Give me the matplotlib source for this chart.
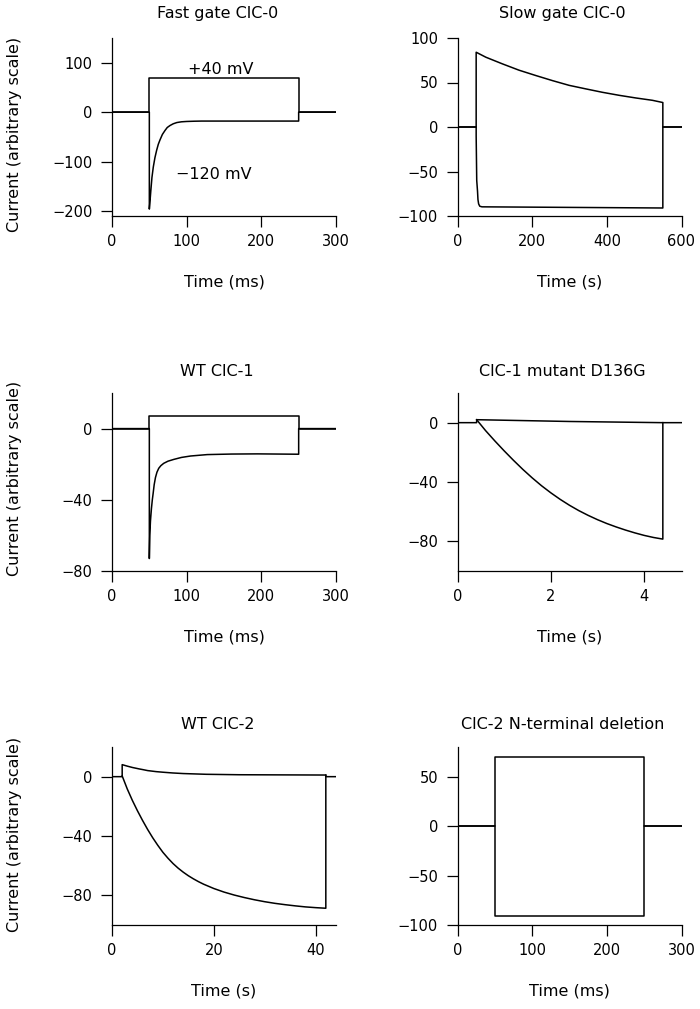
import matplotlib
matplotlib.use("Agg")
import matplotlib.pyplot as plt

plt.rcParams['font.family'] = ['DejaVu Sans']

# ---------------- data ----------------
# Panel 1: Fast gate ClC-0 (ms)
fast_t_pos = [0, 50, 50, 250, 250, 300]
fast_i_pos = [0, 0, 70, 70, 0, 0]
fast_t_neg = [0, 50, 50, 51, 52.1, 53.5, 55.3, 57.5, 59.8, 62, 64.3, 67.5, 71, 74, 77.7,
              82, 86.8, 93, 100, 110, 120, 250, 250, 300]
fast_i_neg = [0, 0, -196, -178, -157, -132, -111, -92, -77, -65, -56, -45, -37, -31, -27,
              -23.5, -21, -19.5, -18.8, -18.3, -18, -18, 0, 0]

# Panel 2: Slow gate ClC-0 (s)
slow_t_pos = [0, 50, 50, 76, 120.5, 165, 210, 254.5, 299, 344, 388, 433, 478, 522, 550, 550, 600]
slow_i_pos = [0, 0, 84, 78.4, 70.9, 63.8, 57.8, 52.1, 46.8, 42.8, 39, 35.6, 32.6, 30, 27.5, 0, 0]
slow_t_neg = [0, 50, 50, 51.5, 53.6, 54.8, 56.6, 59.6, 65.5, 550, 550, 600]
slow_i_neg = [0, 0, -10, -60, -72, -81.5, -86.4, -89, -89.7, -91, 0, 0]

# Panel 3: WT ClC-1 (ms)
c1_t_pos = [0, 50, 50, 250, 250, 300]
c1_i_pos = [0, 0, 7, 7, 0, 0]
c1_t_neg = [0, 50, 50, 50.6, 51.5, 52.8, 54, 55.1, 56.5, 58.2, 60.2, 62.6, 65.5, 69.3, 75,
            82.8, 93, 105.2, 127.6, 160, 194.8, 250, 250, 300]
c1_i_neg = [0, 0, -73, -60, -52, -45, -40, -36.4, -31.5, -27.5, -24.5, -22.3, -20.8, -19.5, -18.3,
            -17.3, -16.2, -15.4, -14.6, -14.3, -14.2, -14.4, 0, 0]

# Panel 4: ClC-1 mutant D136G (s)
d136_t_pos = [0, 0.41, 0.41, 2.4, 4.4, 4.4, 4.8]
d136_i_pos = [0, 0, 2, 0.8, 0, 0, 0]
d136_t_neg = [0.41, 0.6, 0.8, 1.0, 1.2, 1.4, 1.6, 1.8, 2.0, 2.2, 2.4, 2.6, 2.8, 3.0, 3.2,
              3.4, 3.6, 3.8, 4.0, 4.2, 4.4, 4.4]
d136_i_neg = [2, -5.3, -12.3, -19, -25.4, -31.5, -37.2, -42.5, -47.3, -51.7, -55.7, -59.3,
              -62.5, -65.4, -68, -70.3, -72.4, -74.3, -76, -77.4, -78.5, 0]

# Panel 5: WT ClC-2 (s)
c2_t_pos = [0, 2, 2, 3, 4, 5.37, 6, 7, 8.66, 10, 11.9, 14, 18.5, 25, 42, 42, 44]
c2_i_pos = [0, 0, 8.1, 7.1, 6.2, 5.2, 4.8, 4.1, 3.4, 3.0, 2.5, 2.1, 1.6, 1.3, 1.1, 0, 0]
c2_t_neg = [2, 3, 4, 5, 6, 7, 8, 9, 10, 11, 12, 13, 14, 15, 16, 17, 18, 20, 22, 24, 26,
            28, 30, 32, 34, 36, 38, 40, 42, 42]
c2_i_neg = [0.5, -8.3, -16, -23, -29.5, -35.6, -41.2, -46.3, -51, -55, -58.6, -61.7, -64.4,
            -66.8, -68.9, -70.8, -72.5, -75.4, -77.8, -79.8, -81.5, -83, -84.3, -85.4,
            -86.3, -87.1, -87.8, -88.3, -88.7, 1.1]

# Panel 6: ClC-2 N-terminal deletion (ms)
nd_t_pos = [0, 50, 50, 250, 250, 300]
nd_i_pos = [0, 0, 70, 70, 0, 0]
nd_t_neg = [0, 50, 50, 250, 250, 300]
nd_i_neg = [0, 0, -91, -91, 0, 0]

titles = ["Fast gate ClC-0", "Slow gate ClC-0", "WT ClC-1",
          "ClC-1 mutant D136G", "WT ClC-2", "ClC-2 N-terminal deletion"]
xlabels = ["Time (ms)", "Time (s)", "Time (ms)", "Time (s)", "Time (s)", "Time (ms)"]
xlims = [(0, 300), (0, 600), (0, 300), (0, 4.8), (0, 44), (0, 300)]
ylims = [(-210, 150), (-100, 100), (-80, 20), (-100, 20), (-100, 20), (-100, 80)]
xticks = [[0, 100, 200, 300], [0, 200, 400, 600], [0, 100, 200, 300],
          [0, 2, 4], [0, 20, 40], [0, 100, 200, 300]]
yticks = [[-200, -100, 0, 100], [-100, -50, 0, 50, 100], [-80, -40, 0],
          [-80, -40, 0], [-80, -40, 0], [-100, -50, 0, 50]]

traces = [
    [(fast_t_pos, fast_i_pos), (fast_t_neg, fast_i_neg)],
    [(slow_t_pos, slow_i_pos), (slow_t_neg, slow_i_neg)],
    [(c1_t_pos, c1_i_pos), (c1_t_neg, c1_i_neg)],
    [(d136_t_pos, d136_i_pos), (d136_t_neg, d136_i_neg)],
    [(c2_t_pos, c2_i_pos), (c2_t_neg, c2_i_neg)],
    [(nd_t_pos, nd_i_pos), (nd_t_neg, nd_i_neg)],
]

# ---------------- layout ----------------
W, H = 700, 1009
fig = plt.figure(figsize=(W / 100, H / 100), dpi=100)

lefts_px = [112, 457.5]
tops_px = [38, 393, 747]
aw, ah = 224, 178
ylab_y = [0.46, 0.52, 0.51]
title_pads = [14.5, 12, 13]

for i in range(6):
    r, c = divmod(i, 2)
    ax = fig.add_axes([lefts_px[c] / W, 1 - (tops_px[r] + ah) / H, aw / W, ah / H])
    for t, y in traces[i]:
        ax.plot(t, y, color='black', lw=1.1, solid_joinstyle='round')
    ax.set_xlim(*xlims[i])
    ax.set_ylim(*ylims[i])
    ax.set_xticks(xticks[i])
    ax.set_yticks(yticks[i])
    for s in ['top', 'right']:
        ax.spines[s].set_visible(False)
    for s in ['left', 'bottom']:
        ax.spines[s].set_linewidth(0.9)
    ax.tick_params(direction='out', length=8, width=0.9, labelsize=10.5)
    ax.tick_params(axis='x', pad=5)
    ax.tick_params(axis='y', pad=6)
    ax.set_title(titles[i], fontsize=11.5, pad=title_pads[r], x=0.47)
    ax.set_xlabel(xlabels[i], fontsize=11.5, labelpad=18)
    if c == 0:
        ax.set_ylabel("Current (arbitrary scale)", fontsize=11.5)
        ax.yaxis.set_label_coords(-0.40, ylab_y[r])
    if i == 0:
        ax.text(145, 87, "+40 mV", fontsize=11.5, ha='center', va='center')
        ax.text(136, -127, "\u2212120 mV", fontsize=11.5, ha='center', va='center')

fig.savefig("out.png", dpi=100)
